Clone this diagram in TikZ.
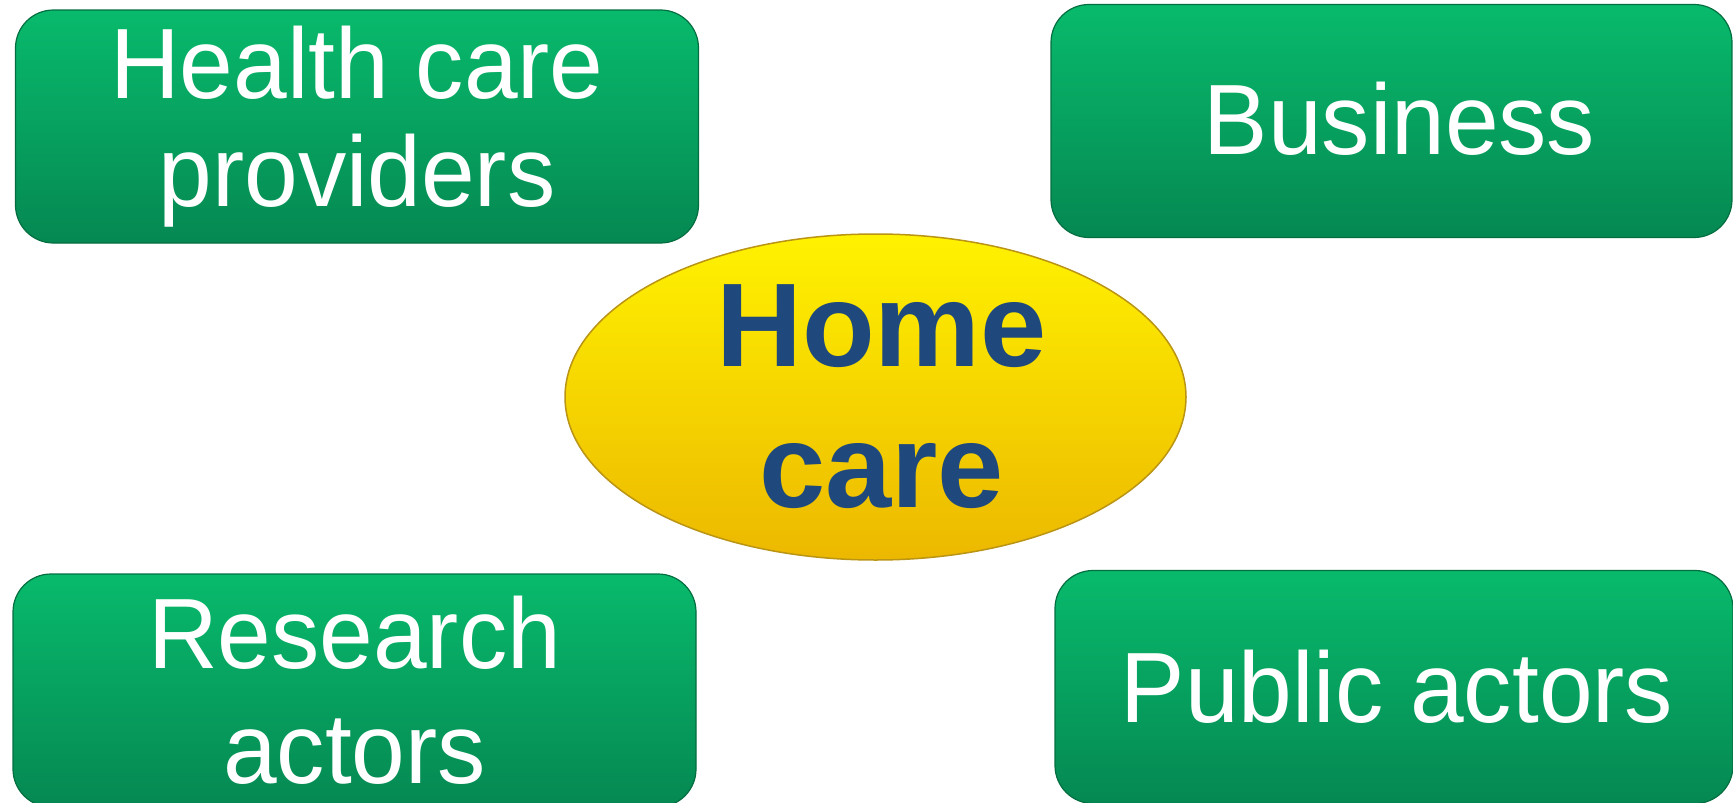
\documentclass[tikz,border=0pt]{standalone}
\usepackage{fontspec}
\setmainfont{Liberation Sans}
\usetikzlibrary{shapes.geometric}
\definecolor{gtop}{RGB}{8,186,108}
\definecolor{gbot}{RGB}{5,136,82}
\definecolor{gedge}{RGB}{4,110,64}
\definecolor{ghigh}{RGB}{70,235,160}
\definecolor{ytop}{RGB}{255,242,0}
\definecolor{ybot}{RGB}{236,184,0}
\definecolor{yedge}{RGB}{186,148,20}
\definecolor{hcblue}{RGB}{31,73,125}
\tikzset{
  greenbox/.style={rectangle, rounded corners=38pt, draw=gedge, line width=1.2pt,
    top color=gtop, bottom color=gbot, minimum width=#1, minimum height=233pt,
    inner sep=0pt, text=white, align=center,
    font=\fontsize{100}{114}\selectfont},
  hub/.style={ellipse, draw=yedge, line width=1.5pt, top color=ytop, bottom color=ybot,
    minimum width=621pt, minimum height=326pt, inner sep=0pt, text=hcblue, align=center,
    font=\fontsize{119}{141}\selectfont\bfseries},
  hitext/.style={inner sep=0pt}
}
\newcommand{\nar}[1]{\scalebox{0.965}[1]{#1}}
\begin{document}
\begin{tikzpicture}[x=1pt,y=-1pt]
\useasboundingbox (0,0) rectangle (1733,803);
\node[greenbox=683pt] (hcp) at (357,126.5) {\raisebox{-6pt}{\nar{Health care}}\\\nar{providers}};
\node[greenbox=681pt] (bus) at (1391.5,121) {\raisebox{4.5pt}{\hspace*{16pt}\nar{Business}}};
\node[greenbox=683pt] (res) at (354.5,690.5) {\raisebox{3pt}{\nar{Research}}\\\raisebox{2pt}{\nar{actors}}};
\node[greenbox=678pt] (pub) at (1394,687) {\raisebox{1pt}{\hspace*{6pt}\nar{Public actors}}};
\node[hub] (home) at (875.5,397) {\hspace*{12pt}\raisebox{-3.5pt}{Home}\\\hspace*{12pt}\raisebox{-3.5pt}{care}};
\end{tikzpicture}
\end{document}
